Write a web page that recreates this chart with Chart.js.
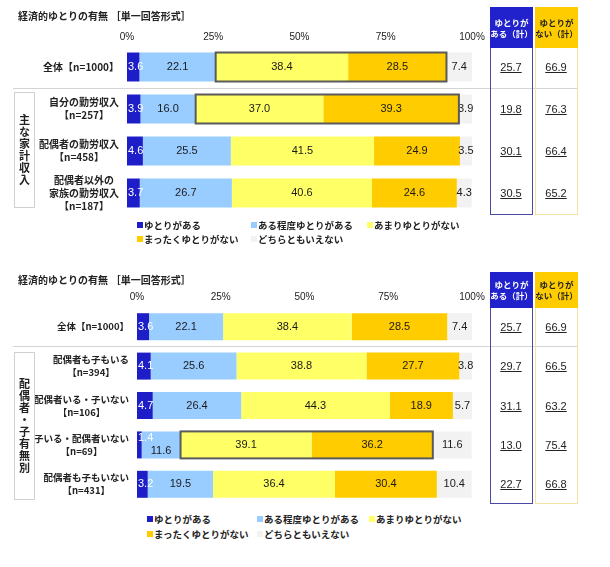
<!DOCTYPE html>
<html>
<head>
<meta charset="utf-8">
<script src="https://cdn.jsdelivr.net/npm/chart.js@4.4.0/dist/chart.umd.min.js"></script>
<style>
  body { margin: 0; background: #fff; font-family: 'Liberation Sans', 'Noto Sans CJK JP', sans-serif; color: #222; }
  #wrap { position: relative; width: 610px; height: 567px; overflow: hidden; }
  .abs { position: absolute; }
  .title { font-size: 10px; font-weight: bold; white-space: nowrap; }
  .sep { height: 1px; background: #d4d4d4; }
  .group { border: 1px solid #d0d0d0; display: flex; align-items: center; justify-content: center; box-sizing: border-box; }
  .group span { writing-mode: vertical-rl; text-orientation: upright; font-size: 11px; font-weight: bold; letter-spacing: 1px; font-family: 'Noto Sans CJK JP', sans-serif; }
  .col { box-sizing: border-box; }
  .head { font-size: 8.5px; font-weight: bold; text-align: center; line-height: 11px; font-family: 'Noto Sans CJK JP', sans-serif; display: flex; align-items: center; justify-content: center; }
  .val { font-size: 11px; text-decoration: underline; text-align: center; width: 42px; line-height: 12px; }
  .legend { display: grid; font-size: 9.5px; font-weight: bold; font-family: 'Noto Sans CJK JP', sans-serif; white-space: nowrap; }
  .legend div { display: flex; align-items: center; }
  .legend i { display: inline-block; width: 6px; height: 6px; margin-right: 1px; }
</style>
</head>
<body>
<div id="wrap">
  <canvas id="c1" class="abs" width="490" height="222" style="left:0;top:0;"></canvas>
  <canvas id="c2" class="abs" width="490" height="250" style="left:0;top:260px;"></canvas>
</div>
<script>
const seriesNames = ["ゆとりがある", "ある程度ゆとりがある", "あまりゆとりがない", "まったくゆとりがない", "どちらともいえない"];
const seriesColors = ["#1e1ec8", "#99ccff", "#ffff66", "#ffcc00", "#f2f2f2"];
const xTicks = [0, 25, 50, 75, 100];

// panel 1: 主な家計収入
const incomeLabels = [["全体【n=1000】"], ["自分の勤労収入", "【n=257】"], ["配偶者の勤労収入", "【n=458】"], ["配偶者以外の", "家族の勤労収入", "【n=187】"]];
const incomeAru = [3.6, 3.9, 4.6, 3.7];
const incomeTeido = [22.1, 16.0, 25.5, 26.7];
const incomeAmari = [38.4, 37.0, 41.5, 40.6];
const incomeMattaku = [28.5, 39.3, 24.9, 24.6];
const incomeDochira = [7.4, 3.9, 3.5, 4.3];
const incomeTotalAru = ["25.7", "19.8", "30.1", "30.5"];
const incomeTotalNai = ["66.9", "76.3", "66.4", "65.2"];

// panel 2: 配偶者・子有無別
const familyLabels = [["全体【n=1000】"], ["配偶者も子もいる", "【n=394】"], ["配偶者いる・子いない", "【n=106】"], ["子いる・配偶者いない", "【n=69】"], ["配偶者も子もいない", "【n=431】"]];
const familyAru = [3.6, 4.1, 4.7, 1.4, 3.2];
const familyTeido = [22.1, 25.6, 26.4, 11.6, 19.5];
const familyAmari = [38.4, 38.8, 44.3, 39.1, 36.4];
const familyMattaku = [28.5, 27.7, 18.9, 36.2, 30.4];
const familyDochira = [7.4, 3.8, 5.7, 11.6, 10.4];
const familyTotalAru = ["25.7", "29.7", "31.1", "13.0", "22.7"];
const familyTotalNai = ["66.9", "66.5", "63.2", "75.4", "66.8"];

const numFont = "'Liberation Sans', Arial, sans-serif";
const jpFont = "'Noto Sans CJK JP', sans-serif";

const barText = {
  id: "barText",
  afterDatasetsDraw(chart, args, opts) {
    const ctx = chart.ctx;
    ctx.save();
    ctx.font = "11px " + numFont;
    ctx.textBaseline = "middle";
    chart.data.datasets.forEach((ds, i) => {
      chart.getDatasetMeta(i).data.forEach((el, j) => {
        const v = ds.data[j].toFixed(1);
        const shift = (opts.shifts[i + "_" + j]) || 0;
        if (i === 0) {
          ctx.fillStyle = "#fff";
          ctx.textAlign = "left";
          ctx.fillText(v, el.base + 1, el.y + shift);
        } else {
          ctx.fillStyle = "#1a1a1a";
          ctx.textAlign = "center";
          ctx.fillText(v, (el.base + el.x) / 2, el.y + shift);
        }
      });
    });
    // frame around あまり + まったく
    ctx.strokeStyle = "#5a5a5a";
    ctx.lineWidth = 2;
    opts.highlight.forEach(r => {
      const a = chart.getDatasetMeta(2).data[r];
      const b = chart.getDatasetMeta(3).data[r];
      ctx.strokeRect(a.base, a.y - a.height / 2, b.x - a.base, a.height);
    });
    ctx.restore();
  }
};

const catText = {
  id: "catText",
  afterDraw(chart, args, opts) {
    const ctx = chart.ctx;
    const y = chart.scales.y;
    ctx.save();
    ctx.font = "bold " + opts.size + "px " + jpFont;
    ctx.fillStyle = "#222";
    ctx.textAlign = "center";
    ctx.textBaseline = "middle";
    chart.data.labels.forEach((lines, i) => {
      const w = Math.max(...lines.map(s => ctx.measureText(s).width));
      const cx = chart.chartArea.left - 8 - w / 2;
      const cy = y.getPixelForValue(i);
      lines.forEach((s, k) => {
        ctx.fillText(s, cx, cy + (k - (lines.length - 1) / 2) * 13);
      });
    });
    ctx.restore();
  }
};

function makeChart(id, labels, series, cfg) {
  return new Chart(document.getElementById(id), {
    type: "bar",
    data: {
      labels: labels,
      datasets: series.map((d, i) => ({
        label: seriesNames[i],
        data: d,
        backgroundColor: seriesColors[i],
        borderWidth: 0,
        categoryPercentage: 1,
        barPercentage: cfg.barPct
      }))
    },
    options: {
      responsive: false,
      animation: false,
      indexAxis: "y",
      layout: { padding: { left: 0, right: 18, top: 0, bottom: cfg.padBottom } },
      plugins: {
        legend: { display: false },
        tooltip: { enabled: false },
        barText: { highlight: cfg.highlight, shifts: cfg.shifts },
        catText: { size: cfg.catSize }
      },
      scales: {
        x: {
          position: "top",
          stacked: true,
          min: 0,
          max: 100,
          afterBuildTicks: s => { s.ticks = xTicks.map(v => ({ value: v })); },
          ticks: { callback: v => v + "%", font: { size: 10, family: numFont }, color: "#222", padding: cfg.tickPad, maxRotation: 0, autoSkip: false },
          grid: { display: false, drawTicks: false },
          border: { display: false },
          afterFit: s => { s.height = cfg.xHeight; }
        },
        y: {
          stacked: true,
          ticks: { display: false },
          grid: { display: false, drawTicks: false },
          border: { display: false },
          afterFit: s => { s.width = cfg.yWidth; }
        }
      }
    },
    plugins: [barText, catText]
  });
}

const chart1 = makeChart("c1", incomeLabels,
  [incomeAru, incomeTeido, incomeAmari, incomeMattaku, incomeDochira],
  { barPct: 0.69, padBottom: 8, xHeight: 46, yWidth: 127, tickPad: 3, catSize: 10, highlight: [0, 1], shifts: {} });

const chart2 = makeChart("c2", familyLabels,
  [familyAru, familyTeido, familyAmari, familyMattaku, familyDochira],
  { barPct: 0.685, padBottom: 6, xHeight: 47, yWidth: 137, tickPad: 4, catSize: 9.5, highlight: [3], shifts: { "0_3": -7, "1_3": 6 } });

const wrap = document.getElementById("wrap");
function add(cls, css, html) {
  const d = document.createElement("div");
  d.className = "abs " + cls;
  d.style.cssText = css;
  if (html) d.innerHTML = html;
  wrap.appendChild(d);
  return d;
}

function panel(chart, top, o) {
  add("title", `left:18px;top:${o.titleY}px;`, "経済的ゆとりの有無 ［単一回答形式］");
  add("sep", `left:13px;top:${o.sepY}px;width:565px;`);
  add("group", `left:14px;top:${o.groupTop}px;width:21px;height:${o.groupH}px;`, `<span>${o.group}</span>`);
  // summary columns
  add("col", `left:490px;top:${o.headTop}px;width:43px;height:${o.bodyBottom - o.headTop}px;border:1.5px solid #4a4aa6;`);
  add("head", `left:490px;top:${o.headTop}px;width:43px;height:${o.headH}px;background:#2222cc;color:#fff;`, "ゆとりが<br>ある（計）");
  add("col", `left:535px;top:${o.headTop}px;width:43px;height:${o.bodyBottom - o.headTop}px;border:1.5px solid #f3e3a4;`);
  add("head", `left:535px;top:${o.headTop}px;width:43px;height:${o.headH}px;background:#ffcc00;color:#222;`, "ゆとりが<br>ない（計）");
  const y = chart.scales.y;
  o.aru.forEach((v, i) => {
    const cy = top + y.getPixelForValue(i);
    add("val", `left:490px;top:${cy - 6}px;`, v);
    add("val", `left:535px;top:${cy - 6}px;`, o.nai[i]);
  });
  const lg = add("legend", `left:${o.legX}px;top:${o.legY}px;grid-template-columns:${o.legCols};grid-auto-rows:${o.legRow}px;`);
  seriesNames.forEach((n, i) => {
    lg.innerHTML += `<div><i style="background:${seriesColors[i]}"></i>${n}</div>`;
  });
}

panel(chart1, 0, { titleY: 8, sepY: 88, groupTop: 92, groupH: 116, group: "主な家計収入",
  headTop: 7, headH: 41, bodyBottom: 215, aru: incomeTotalAru, nai: incomeTotalNai,
  legX: 137, legY: 218, legCols: "114px 116px 110px", legRow: 14 });
panel(chart2, 260, { titleY: 272, sepY: 346, groupTop: 352, groupH: 148, group: "配偶者・子有無別",
  headTop: 272, headH: 36, bodyBottom: 504, aru: familyTotalAru, nai: familyTotalNai,
  legX: 147, legY: 511, legCols: "110px 112px 110px", legRow: 15 });
</script>
</body>
</html>
